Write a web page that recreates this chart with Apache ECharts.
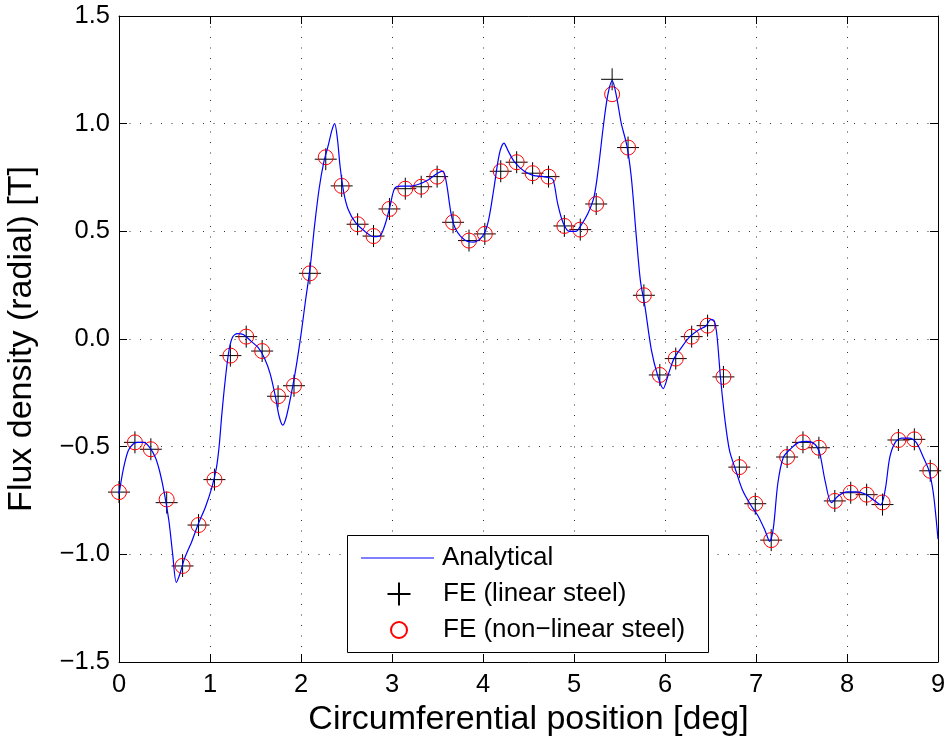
<!DOCTYPE html>
<html>
<head>
<meta charset="utf-8">
<script src="https://cdn.jsdelivr.net/npm/echarts@6/dist/echarts.min.js"></script>
<style>
html,body{margin:0;padding:0;background:#fff;}
#c{width:947px;height:740px;}
</style>
</head>
<body>
<div id="c"></div>
<script>
// ---- data ----
const xTickLabels = ['0','1','2','3','4','5','6','7','8','9'];
const yTickLabels = ['\u22121.5','\u22121.0','\u22120.5','0.0','0.5','1.0','1.5'];

const analyticX = [0.00,0.05,0.10,0.15,0.20,0.27,0.33,0.40,0.45,0.50,0.55,0.59,0.63,0.67,0.72,0.80,0.87,0.95,1.02,1.07,1.10,1.13,1.17,1.21,1.25,1.30,1.37,1.45,1.53,1.60,1.66,1.72,1.76,1.80,1.84,1.90,1.95,2.00,2.05,2.10,2.15,2.20,2.25,2.30,2.34,2.37,2.40,2.43,2.47,2.52,2.60,2.70,2.80,2.87,2.93,2.98,3.03,3.10,3.20,3.30,3.40,3.50,3.56,3.60,3.65,3.70,3.80,3.90,4.00,4.06,4.12,4.18,4.23,4.28,4.35,4.45,4.55,4.65,4.72,4.77,4.82,4.88,4.95,5.02,5.08,5.15,5.22,5.27,5.32,5.37,5.42,5.47,5.52,5.58,5.63,5.68,5.73,5.78,5.85,5.92,5.98,6.04,6.10,6.18,6.27,6.36,6.45,6.50,6.54,6.57,6.61,6.66,6.71,6.77,6.85,6.94,7.02,7.10,7.15,7.19,7.24,7.30,7.38,7.47,7.56,7.65,7.70,7.76,7.83,7.90,8.00,8.10,8.20,8.30,8.37,8.42,8.47,8.53,8.60,8.68,8.76,8.84,8.90,8.95,9.00];
const analyticY = [-0.72,-0.60,-0.52,-0.49,-0.48,-0.48,-0.50,-0.55,-0.62,-0.72,-0.85,-1.00,-1.13,-1.09,-1.02,-0.94,-0.86,-0.78,-0.69,-0.60,-0.50,-0.35,-0.18,-0.05,0.01,0.025,0.02,-0.01,-0.04,-0.09,-0.16,-0.27,-0.36,-0.40,-0.36,-0.24,-0.12,0.02,0.18,0.33,0.53,0.70,0.82,0.90,0.97,1.00,0.93,0.80,0.68,0.60,0.54,0.50,0.475,0.48,0.54,0.62,0.70,0.71,0.71,0.72,0.74,0.77,0.78,0.72,0.58,0.51,0.46,0.45,0.48,0.55,0.70,0.86,0.91,0.87,0.82,0.78,0.76,0.755,0.75,0.74,0.63,0.54,0.50,0.50,0.53,0.58,0.66,0.80,0.98,1.13,1.20,1.12,1.00,0.90,0.75,0.50,0.27,0.15,-0.05,-0.17,-0.23,-0.16,-0.09,-0.04,0.01,0.04,0.06,0.09,0.085,0.02,-0.18,-0.38,-0.52,-0.60,-0.70,-0.77,-0.82,-0.89,-0.94,-0.88,-0.67,-0.55,-0.51,-0.48,-0.475,-0.49,-0.53,-0.66,-0.76,-0.73,-0.71,-0.71,-0.72,-0.75,-0.77,-0.70,-0.55,-0.48,-0.46,-0.46,-0.48,-0.55,-0.61,-0.72,-0.93];

const feX = [0,0.175,0.350,0.524,0.699,0.874,1.049,1.224,1.398,1.573,1.748,1.923,2.098,2.272,2.447,2.622,2.797,2.972,3.146,3.321,3.496,3.671,3.846,4.020,4.195,4.370,4.545,4.720,4.894,5.069,5.244,5.419,5.594,5.768,5.943,6.118,6.293,6.468,6.642,6.817,6.992,7.167,7.342,7.516,7.691,7.866,8.041,8.216,8.390,8.565,8.740,8.915];
const feLinear = [-0.711,-0.480,-0.512,-0.760,-1.054,-0.864,-0.653,-0.077,0.011,-0.056,-0.266,-0.217,0.305,0.835,0.711,0.533,0.478,0.604,0.698,0.707,0.754,0.542,0.457,0.488,0.779,0.821,0.770,0.754,0.525,0.508,0.627,1.206,0.889,0.203,-0.167,-0.091,0.011,0.062,-0.176,-0.595,-0.765,-0.934,-0.548,-0.480,-0.505,-0.752,-0.714,-0.723,-0.769,-0.469,-0.466,-0.612];
const feNonLinear = [-0.711,-0.480,-0.512,-0.745,-1.054,-0.864,-0.653,-0.077,0.011,-0.056,-0.266,-0.217,0.305,0.844,0.711,0.533,0.478,0.604,0.698,0.707,0.754,0.542,0.457,0.488,0.779,0.821,0.770,0.754,0.525,0.508,0.627,1.137,0.889,0.203,-0.167,-0.091,0.011,0.062,-0.176,-0.595,-0.765,-0.934,-0.548,-0.480,-0.505,-0.752,-0.714,-0.723,-0.759,-0.469,-0.466,-0.612];

// ---- chart ----
const FONT = '"Liberation Sans", Arial, Helvetica, sans-serif';
const plusPath = 'path://M0,10L20,10M10,0L10,20';
const chart = echarts.init(document.getElementById('c'), null, {renderer: 'canvas'});

const gridDots = {show: true, lineStyle: {color: '#333', width: 1, type: [1, 9.5]}};
const axisLineBlack = {show: true, onZero: false, lineStyle: {color: '#000', width: 1}};
const tickIn = {show: true, inside: true, length: 8, lineStyle: {color: '#000', width: 1}};
const legendText = {fontFamily: FONT, fontSize: 26, lineHeight: 26, color: '#000'};

const option = {
  animation: false,
  backgroundColor: '#fff',
  grid: {left: 119, right: 9, top: 16, bottom: 78, containLabel: false, outerBoundsMode: 'none'},
  xAxis: [{
    type: 'value', min: 0, max: 9, interval: 1, position: 'bottom',
    name: 'Circumferential position [deg]', nameLocation: 'middle', nameGap: 40,
    nameTextStyle: {fontFamily: FONT, fontSize: 34, color: '#000'},
    axisLine: axisLineBlack, axisTick: tickIn, splitLine: gridDots,
    axisLabel: {fontFamily: FONT, fontSize: 25.5, color: '#000', margin: 10,
      formatter: v => xTickLabels[Math.round(v)]}
  }, {
    type: 'value', min: 0, max: 9, interval: 1, position: 'top',
    axisLine: axisLineBlack, axisTick: tickIn, splitLine: {show: false}, axisLabel: {show: false}
  }],
  yAxis: [{
    type: 'value', min: -1.5, max: 1.5, interval: 0.5, position: 'left',
    name: 'Flux density (radial) [T]', nameLocation: 'middle', nameGap: 80,
    nameTextStyle: {fontFamily: FONT, fontSize: 34, color: '#000'},
    axisLine: axisLineBlack, axisTick: tickIn, splitLine: gridDots,
    axisLabel: {fontFamily: FONT, fontSize: 25.5, color: '#000', margin: 9,
      formatter: v => yTickLabels[Math.round((v + 1.5) / 0.5)]}
  }, {
    type: 'value', min: -1.5, max: 1.5, interval: 0.5, position: 'right',
    axisLine: axisLineBlack, axisTick: tickIn, splitLine: {show: false}, axisLabel: {show: false}
  }],
  graphic: [{
    type: 'rect', z: 10, left: 347, top: 535,
    shape: {width: 361, height: 117},
    style: {fill: '#fff', stroke: '#000', lineWidth: 1}
  }],
  legend: [{
    z: 20, left: 361, top: 545, padding: 0, itemWidth: 73, itemHeight: 1.2,
    symbolKeepAspect: false,
    data: [{name: 'Analytical', icon: 'rect'}],
    textStyle: Object.assign({padding: [0, 0, 0, 3]}, legendText)
  }, {
    z: 20, left: 386.5, top: 581, padding: 0, itemWidth: 23, itemHeight: 23,
    data: ['FE (linear steel)'],
    textStyle: Object.assign({padding: [0, 0, 0, 27.5]}, legendText)
  }, {
    z: 20, left: 390, top: 617, padding: 0, itemWidth: 16, itemHeight: 16,
    data: ['FE (non\u2212linear steel)'],
    textStyle: Object.assign({padding: [0, 0, 0, 31]}, legendText)
  }],
  series: [{
    name: 'Analytical', type: 'line', xAxisIndex: 0, yAxisIndex: 0,
    data: analyticX.map((x, i) => [x, analyticY[i]]),
    smooth: 0.3, symbol: 'none', showSymbol: false,
    lineStyle: {color: '#0000ff', width: 1.2}, itemStyle: {color: '#0000ff'}
  }, {
    name: 'FE (linear steel)', type: 'scatter', xAxisIndex: 0, yAxisIndex: 0,
    data: feX.map((x, i) => [x, feLinear[i]]),
    symbol: plusPath, symbolSize: 22,
    itemStyle: {color: 'rgba(0,0,0,0)', borderColor: '#000', borderWidth: 1, opacity: 1}
  }, {
    name: 'FE (non\u2212linear steel)', type: 'scatter', xAxisIndex: 0, yAxisIndex: 0,
    data: feX.map((x, i) => [x, feNonLinear[i]]),
    symbol: 'circle', symbolSize: 15,
    itemStyle: {color: 'rgba(0,0,0,0)', borderColor: '#ff0000', borderWidth: 1, opacity: 1}
  }]
};
chart.setOption(option);
</script>
</body>
</html>
